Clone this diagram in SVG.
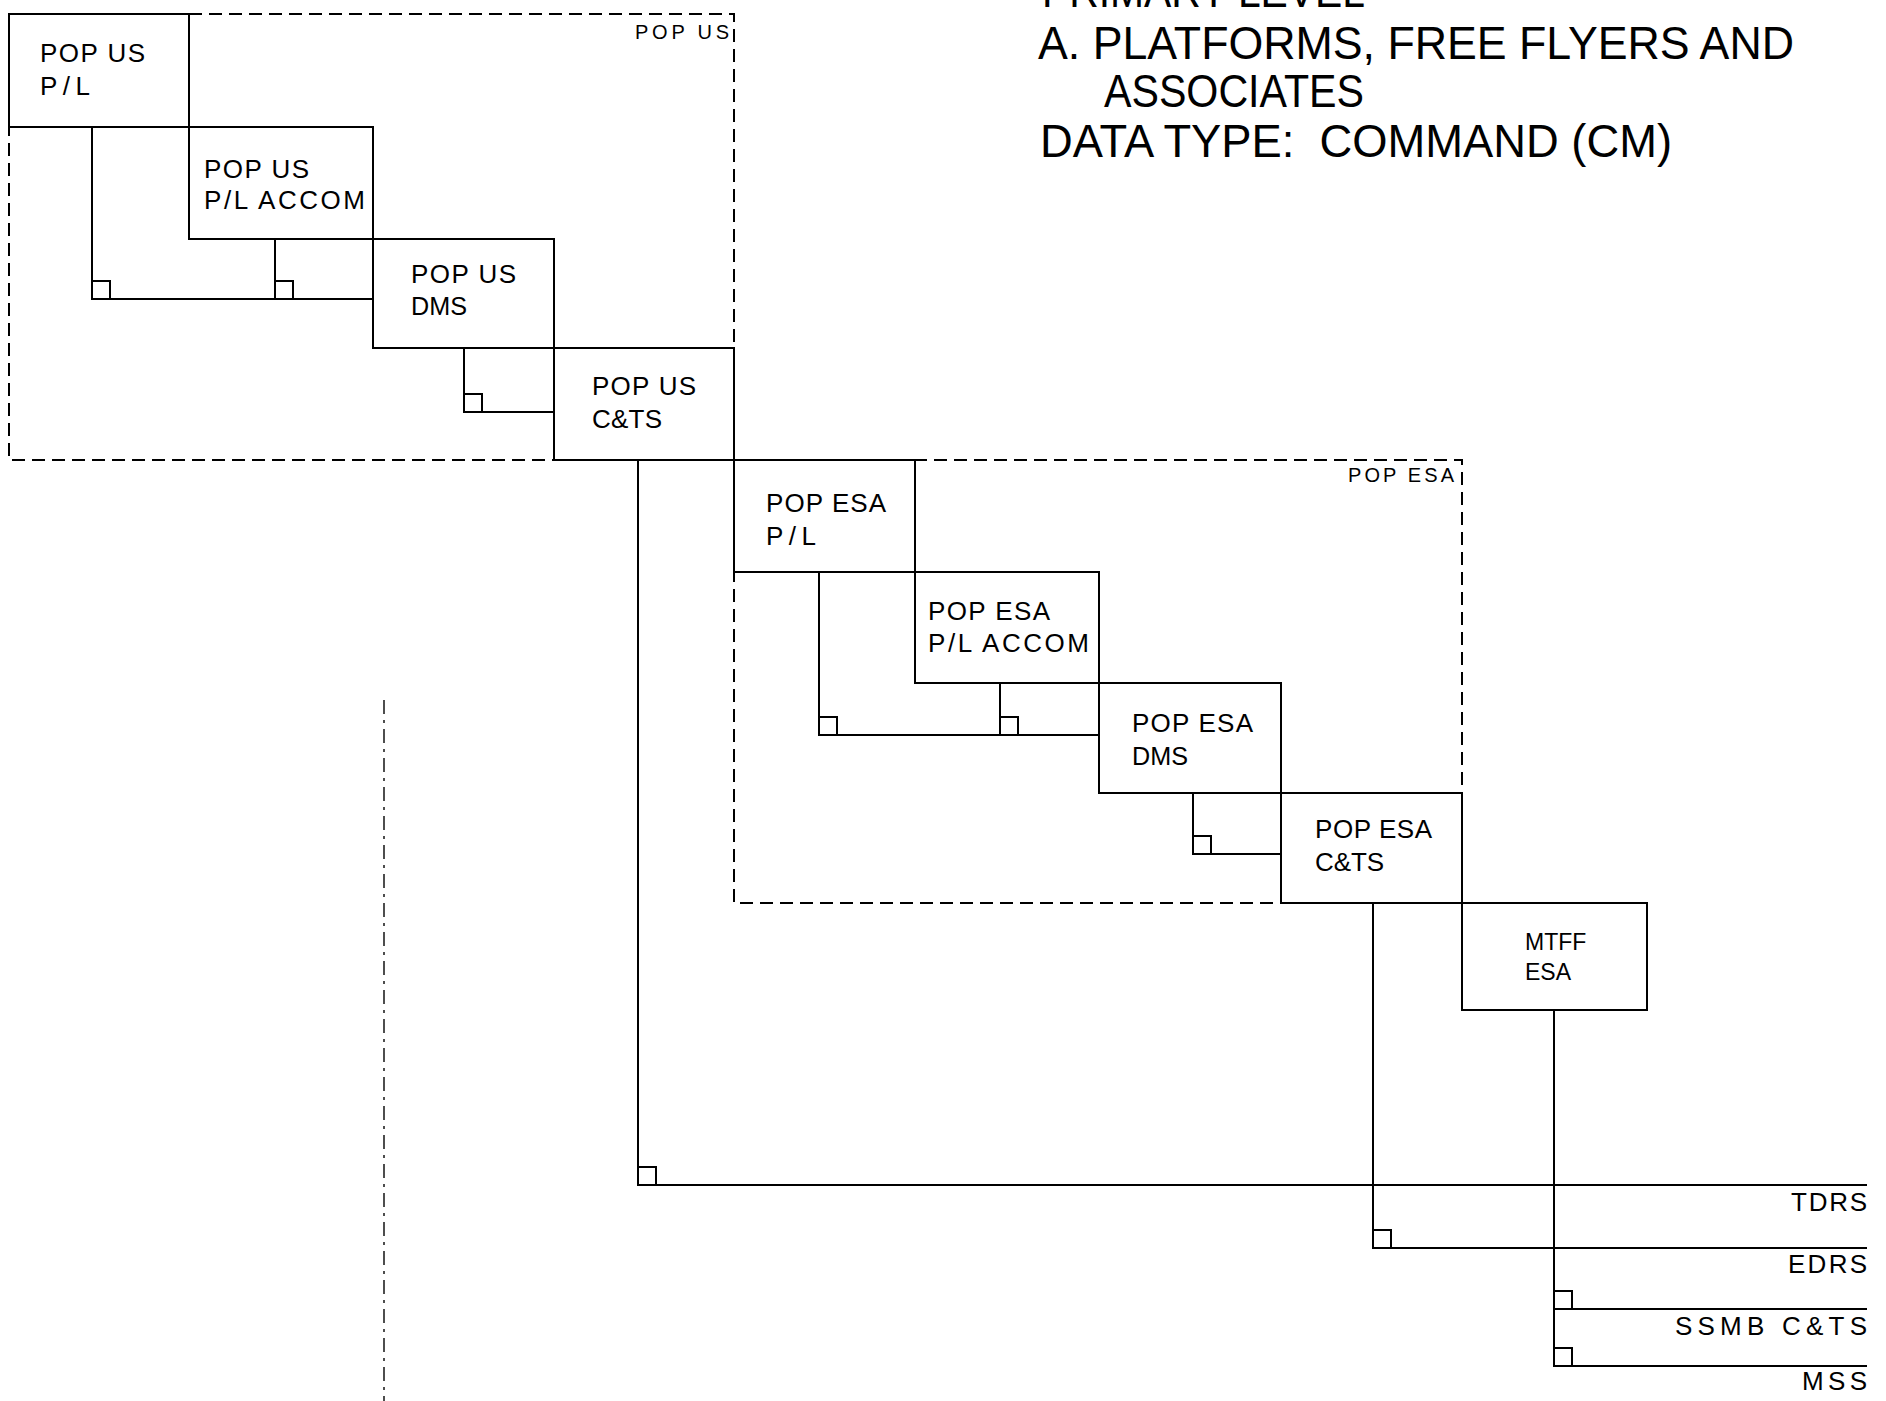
<svg xmlns="http://www.w3.org/2000/svg" width="1886" height="1401" viewBox="0 0 1886 1401">
<style>
.bg{fill:#fff}
.box{fill:none;stroke:#000;stroke-width:2}
.grp{fill:none;stroke:#000;stroke-width:2;stroke-dasharray:13 7}
.ln{fill:none;stroke:#000;stroke-width:2}
.sq{fill:none;stroke:#000;stroke-width:2}
.t{font-family:"Liberation Sans",Arial,sans-serif;font-size:26px;fill:#000}
.ts{font-family:"Liberation Sans",Arial,sans-serif;font-size:23px;fill:#000}
.lbl{font-family:"Liberation Sans",Arial,sans-serif;font-size:20px;fill:#000}
.h{font-family:"Liberation Sans",Arial,sans-serif;font-size:47px;fill:#000}
.dd{fill:none;stroke:#222;stroke-width:1.6;stroke-dasharray:14 6 3 6}
</style>
<rect class="bg" x="0" y="0" width="1886" height="1401"/>

<g id="header">
<text class="h" x="1042" y="7" textLength="323" lengthAdjust="spacingAndGlyphs">PRIMARY LEVEL</text>
<text class="h" x="1038" y="59" textLength="756" lengthAdjust="spacingAndGlyphs">A. PLATFORMS, FREE FLYERS AND</text>
<text class="h" x="1104" y="107" textLength="260" lengthAdjust="spacingAndGlyphs">ASSOCIATES</text>
<text class="h" x="1040" y="157" textLength="632" lengthAdjust="spacingAndGlyphs" xml:space="preserve">DATA TYPE:  COMMAND (CM)</text>
</g>

<g id="group-pop-us">
<rect class="grp" x="9" y="14" width="725" height="446"/>
<text class="lbl" x="635" y="39" textLength="94" lengthAdjust="spacing">POP US</text>
</g>
<g id="group-pop-esa">
<rect class="grp" x="734" y="460" width="728" height="443"/>
<text class="lbl" x="1348" y="482" textLength="106" lengthAdjust="spacing">POP ESA</text>
</g>

<g id="connectors">
<path class="ln" d="M92,127 V299 H373"/>
<rect class="sq" x="92" y="281" width="18" height="18"/>
<path class="ln" d="M275,239 V299"/>
<rect class="sq" x="275" y="281" width="18" height="18"/>
<path class="ln" d="M464,348 V412 H554"/>
<rect class="sq" x="464" y="394" width="18" height="18"/>

<path class="ln" d="M819,572 V735 H1099"/>
<rect class="sq" x="819" y="717" width="18" height="18"/>
<path class="ln" d="M1000,683 V735"/>
<rect class="sq" x="1000" y="717" width="18" height="18"/>
<path class="ln" d="M1193,793 V854 H1281"/>
<rect class="sq" x="1193" y="836" width="18" height="18"/>

<path class="ln" d="M638,460 V1185 H1867"/>
<rect class="sq" x="638" y="1167" width="18" height="18"/>
<path class="ln" d="M1373,903 V1248 H1867"/>
<rect class="sq" x="1373" y="1230" width="18" height="18"/>
<path class="ln" d="M1554,1010 V1366 H1867 M1554,1309 H1867"/>
<rect class="sq" x="1554" y="1291" width="18" height="18"/>
<rect class="sq" x="1554" y="1348" width="18" height="18"/>

<path class="dd" d="M384,700 V1401"/>
</g>

<g id="pop-us-pl">
<rect class="box" x="9" y="14" width="180" height="113"/>
<text class="t" x="40" y="62" textLength="105" lengthAdjust="spacing">POP US</text>
<text class="t" x="40" y="95" textLength="50" lengthAdjust="spacing">P/L</text>
</g>
<g id="pop-us-pl-accom">
<rect class="box" x="189" y="127" width="184" height="112"/>
<text class="t" x="204" y="178" textLength="105" lengthAdjust="spacing">POP US</text>
<text class="t" x="204" y="209" textLength="161" lengthAdjust="spacing">P/L ACCOM</text>
</g>
<g id="pop-us-dms">
<rect class="box" x="373" y="239" width="181" height="109"/>
<text class="t" x="411" y="283" textLength="105" lengthAdjust="spacing">POP US</text>
<text class="t" x="411" y="315" textLength="56" lengthAdjust="spacingAndGlyphs">DMS</text>
</g>
<g id="pop-us-cts">
<rect class="box" x="554" y="348" width="180" height="112"/>
<text class="t" x="592" y="395" textLength="104" lengthAdjust="spacing">POP US</text>
<text class="t" x="592" y="428" textLength="70" lengthAdjust="spacing">C&amp;TS</text>
</g>

<g id="pop-esa-pl">
<rect class="box" x="734" y="460" width="181" height="112"/>
<text class="t" x="766" y="512" textLength="120" lengthAdjust="spacing">POP ESA</text>
<text class="t" x="766" y="545" textLength="50" lengthAdjust="spacing">P/L</text>
</g>
<g id="pop-esa-pl-accom">
<rect class="box" x="915" y="572" width="184" height="111"/>
<text class="t" x="928" y="620" textLength="122" lengthAdjust="spacing">POP ESA</text>
<text class="t" x="928" y="652" textLength="161" lengthAdjust="spacing">P/L ACCOM</text>
</g>
<g id="pop-esa-dms">
<rect class="box" x="1099" y="683" width="182" height="110"/>
<text class="t" x="1132" y="732" textLength="121" lengthAdjust="spacing">POP ESA</text>
<text class="t" x="1132" y="765" textLength="56" lengthAdjust="spacingAndGlyphs">DMS</text>
</g>
<g id="pop-esa-cts">
<rect class="box" x="1281" y="793" width="181" height="110"/>
<text class="t" x="1315" y="838" textLength="117" lengthAdjust="spacing">POP ESA</text>
<text class="t" x="1315" y="871" textLength="69" lengthAdjust="spacing">C&amp;TS</text>
</g>
<g id="mtff-esa">
<rect class="box" x="1462" y="903" width="185" height="107"/>
<text class="ts" x="1525" y="950">MTFF</text>
<text class="ts" x="1525" y="980">ESA</text>
</g>

<g id="tdrs"><text class="t" x="1791" y="1211" textLength="76" lengthAdjust="spacing">TDRS</text></g>
<g id="edrs"><text class="t" x="1788" y="1273" textLength="79" lengthAdjust="spacing">EDRS</text></g>
<g id="ssmb-cts"><text class="t" x="1675" y="1335" textLength="192" lengthAdjust="spacing">SSMB C&amp;TS</text></g>
<g id="mss"><text class="t" x="1802" y="1390" textLength="65" lengthAdjust="spacing">MSS</text></g>
</svg>
